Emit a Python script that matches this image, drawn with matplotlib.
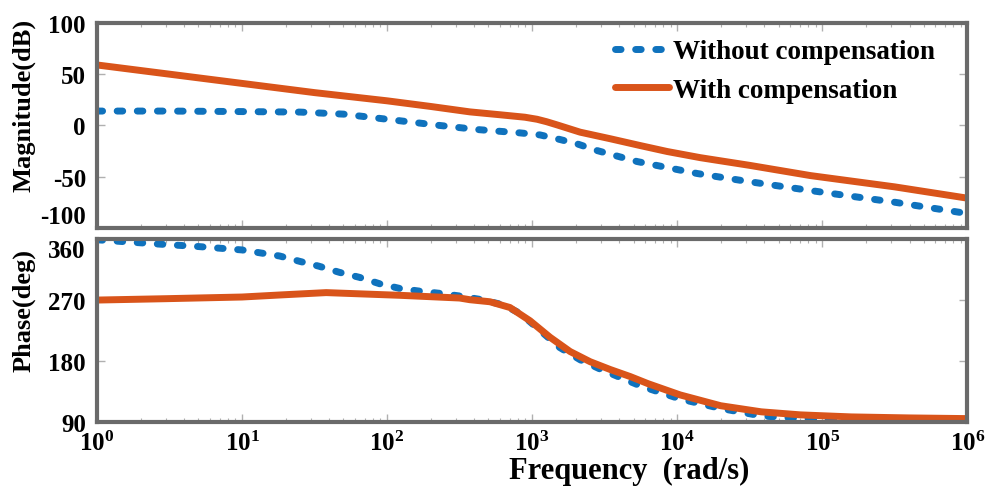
import numpy as np
import matplotlib
matplotlib.use('Agg')
import matplotlib.pyplot as plt

plt.rcParams['font.family'] = 'Liberation Serif'
plt.rcParams['font.weight'] = 'bold'
plt.rcParams['mathtext.fontset'] = 'custom'
plt.rcParams['mathtext.rm'] = 'Liberation Serif:bold'
plt.rcParams['mathtext.bf'] = 'Liberation Serif:bold'
plt.rcParams['axes.unicode_minus'] = False

# Magnitude data (log10 of frequency, dB)
mag_without_lx = [0, 0.5, 1.0, 1.4, 1.7, 2.0, 2.36, 2.619, 2.916, 3.055, 3.193, 3.31, 3.449,
                  3.587, 3.725, 3.863, 4.14, 4.5, 4.92, 5.5, 6.0]
mag_without_db = [14, 14, 13.5, 13, 11, 6, 0, -4, -7.3, -9.3, -13.8, -18, -24.6,
                  -30, -35.3, -39.2, -47, -55, -63.6, -75, -86]

mag_with_lx = [0, 0.5, 1.0, 1.5, 2.0, 2.3, 2.571, 2.778, 2.95, 3.034, 3.1, 3.172, 3.331, 3.538, 3.746,
               3.932, 4.16, 4.5, 4.92, 5.5, 6.0]
mag_with_db = [59, 50, 41, 32, 24, 18.5, 13.2, 10.4, 8.0, 6.0, 3.6, 0.5, -6.6, -13, -19.7,
               -25.5, -31.5, -39, -49, -60, -71]

# Phase data (log10 of frequency, deg)
ph_without_lx = [0, 0.43, 0.7, 1.0, 1.26, 1.4, 1.53, 1.67, 1.81, 1.95, 2.09, 2.23, 2.36, 2.5, 2.64,
                 2.8, 2.92, 3.05, 3.19, 3.33, 3.47, 3.75, 4.02, 4.3, 4.58, 4.85, 5.2, 6.0]
ph_without_deg = [359, 352.6, 349, 344, 335, 327, 320, 311, 303.5, 294, 287, 283, 280, 276, 271,
                  263, 250, 226, 200, 182, 168, 143, 124, 110, 99, 95, 92, 91]

ph_with_lx = [0, 0.47, 1.0, 1.26, 1.58, 2.09, 2.5, 2.571, 2.709, 2.847, 2.985, 3.124, 3.262, 3.40,
              3.538, 3.677, 3.8, 4.02, 4.3, 4.58, 4.85, 5.2, 5.6, 6.0]
ph_with_deg = [270, 272, 274.5, 277.5, 281, 277, 273, 270.5, 267.5, 259, 239.5, 215, 194, 179,
               167.5, 157, 146.5, 130, 114, 105, 100.5, 97.5, 96, 95]

blue = '#0F72BD'
orange = '#D9541A'
spine_gray = '#6a6a6a'

fig = plt.figure(figsize=(9.9, 4.89), dpi=100)
ax1 = fig.add_axes([0.098, 0.532, 0.879, 0.419])
ax2 = fig.add_axes([0.098, 0.135, 0.879, 0.374])

dash_style = dict(color=blue, lw=5, dashes=(0.8, 2.1), dash_capstyle='round')
solid_style = dict(color=orange, lw=5, solid_capstyle='round', solid_joinstyle='round')

ax1.plot(10 ** np.array(mag_without_lx), mag_without_db, label='Without compensation', **dash_style)
ax1.plot(10 ** np.array(mag_with_lx), mag_with_db, label='With compensation', **solid_style)

ax2.plot(10 ** np.array(ph_without_lx), ph_without_deg, **dash_style)
ax2.plot(10 ** np.array(ph_with_lx), ph_with_deg, **solid_style)

for ax in (ax1, ax2):
    ax.set_xscale('log')
    ax.set_xlim(1, 1e6)
    for s in ax.spines.values():
        s.set_color(spine_gray)
        s.set_linewidth(3)
    ax.tick_params(which='both', direction='in', top=True, right=True, colors='#b0b0b0',
                   labelcolor='black', labelsize=18, pad=8)
    ax.tick_params(which='major', length=6, width=1)
    ax.tick_params(which='minor', length=3, width=0.8)

ax1.set_ylim(-100, 100)
ax1.set_yticks([-100, -50, 0, 50, 100])
ax1.tick_params(labelbottom=False)
ax1.set_ylabel('Magnitude(dB)', fontsize=19, fontweight='bold')
ax1.yaxis.set_label_coords(-0.071, 0.60)
ax1.yaxis.get_major_ticks()[0].label1.set_va('bottom')

ax2.set_ylim(90, 360)
ax2.set_yticks([90, 180, 270, 360])
ax2.set_ylabel('Phase(deg)', fontsize=19, fontweight='bold')
ax2.yaxis.set_label_coords(-0.071, 0.617)
ax2.yaxis.get_major_ticks()[-1].label1.set_va('top')
ax2.set_xticks([1, 10, 100, 1e3, 1e4, 1e5, 1e6])
ax2.tick_params(axis='x', labelsize=18, pad=6)

fig.text(0.636, 0.021, 'Frequency  (rad/s)', fontsize=22, fontweight='bold', ha='center')

ax1.legend(loc='upper left', bbox_to_anchor=(0.595, 0.92), frameon=False, fontsize=19.5,
           borderpad=0, borderaxespad=0, handlelength=2.0, handletextpad=0.15, labelspacing=0.5)

plt.savefig('out.png', dpi=100)
